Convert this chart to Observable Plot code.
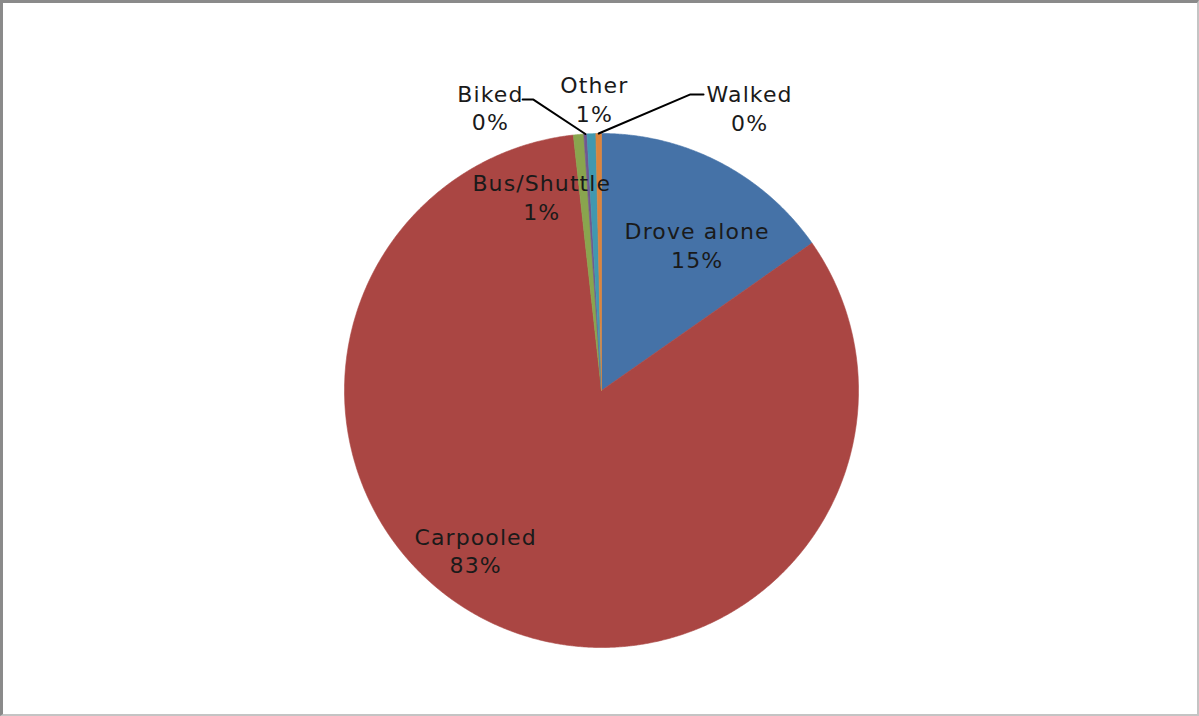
<!DOCTYPE html>
<html><head><meta charset="utf-8">
<script src="https://cdn.jsdelivr.net/npm/d3@7"></script>
<script src="https://cdn.jsdelivr.net/npm/@observablehq/plot@0.6"></script>
<style>
html,body{margin:0;padding:0;background:#fff;}
#frame{position:absolute;left:0;top:0;width:1199px;height:716px;box-sizing:border-box;border-left:3px solid #8a8a8a;border-top:3px solid #8a8a8a;border-right:2px solid #c4c4c4;border-bottom:2px solid #c4c4c4;}
#chart{position:absolute;left:0;top:0;}
#chart svg text{letter-spacing:1.1px;}
</style></head><body><div id="frame"></div><div id="chart"></div>
<script>
// Data
const categories = ["Drove alone", "Carpooled", "Bus/Shuttle", "Biked", "Other", "Walked"];
const shares = [15.3, 83.1, 0.65, 0.2, 0.55, 0.35];
const colors = ["#4572A7", "#AA4643", "#89A54E", "#71588F", "#4198AF", "#DB843D"];

// Label layout (angle in degrees clockwise from 12 o'clock, radius as fraction of pie radius)
const labelAngle = [33.2, 218.3, 342.9, 338.6, 358.6, 27.6];
const labelRadius = [0.68, 0.79, 0.79, 1.185, 1.138, 1.244];
// Leader lines for outside labels: [category, start x, start y, elbow x, elbow y] (pie-radius units)
const leaders = [
  ["Biked", -0.307, 1.132, -0.265, 1.132],
  ["Walked", 0.397, 1.152, 0.346, 1.152]
];

const total = d3.sum(shares);
const arcs = d3.pie().sort(null).value(d => d)(shares);

function slicePoints(i) {
  const a = arcs[i];
  const pts = [{x: 0, y: 0}];
  const n = Math.max(2, Math.ceil((a.endAngle - a.startAngle) / (Math.PI / 720)));
  for (let k = 0; k <= n; k++) {
    const t = a.startAngle + (a.endAngle - a.startAngle) * k / n;
    pts.push({x: Math.sin(t), y: Math.cos(t)});
  }
  pts.push({x: 0, y: 0});
  return pts;
}

const labelRows = categories.map((c, i) => {
  const t = labelAngle[i] * Math.PI / 180;
  return {
    x: labelRadius[i] * Math.sin(t),
    y: labelRadius[i] * Math.cos(t),
    text: c + "\n" + Math.round(shares[i] / total * 100) + "%"
  };
});

const leaderRows = [];
leaders.forEach(([name, x0, y0, x1, y1]) => {
  const a = arcs[categories.indexOf(name)];
  const mid = (a.startAngle + a.endAngle) / 2;
  leaderRows.push({name, x: x0, y: y0});
  leaderRows.push({name, x: x1, y: y1});
  leaderRows.push({name, x: Math.sin(mid), y: Math.cos(mid)});
});

const font = "'DejaVu Sans', 'Open Sans', sans-serif";

const chart = Plot.plot({
  width: 1199,
  height: 716,
  marginLeft: 344,
  marginRight: 341,
  marginTop: 133,
  marginBottom: 69,
  x: {domain: [-1, 1], axis: null},
  y: {domain: [-1, 1], axis: null},
  style: {background: "transparent", fontFamily: font},
  marks: [
    ...categories.map((c, i) => Plot.line(slicePoints(i), {
      x: "x", y: "y", fill: colors[i], stroke: colors[i], strokeWidth: 0.6, curve: "linear"
    })),
    Plot.line(leaderRows, {x: "x", y: "y", z: "name", stroke: "#000", strokeWidth: 2, curve: "linear"}),
    Plot.text(labelRows, {
      x: "x", y: "y", text: "text", fontSize: 22, lineHeight: 1.3,
      fill: "#1a1a1a", fontFamily: font
    })
  ]
});
document.getElementById("chart").appendChild(chart);
</script>
</body></html>
